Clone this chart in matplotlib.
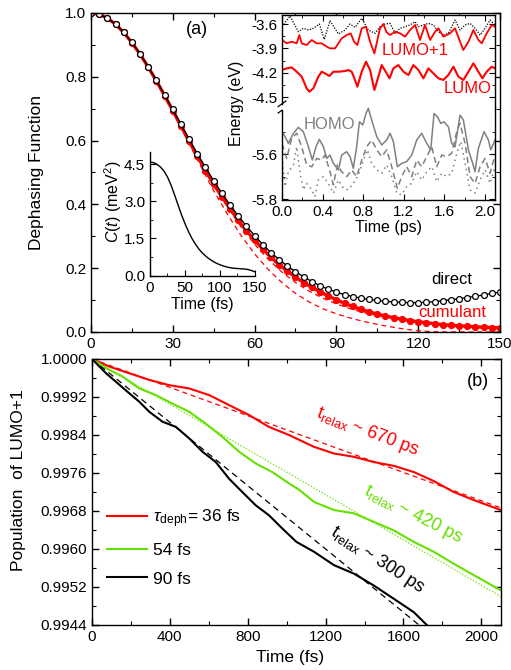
import numpy as np
import matplotlib
matplotlib.use("Agg")
import matplotlib.pyplot as plt
from matplotlib.ticker import MultipleLocator, FixedLocator, FormatStrFormatter

plt.rcParams["font.family"] = "Liberation Sans"
plt.rcParams["mathtext.fontset"] = "custom"
plt.rcParams["mathtext.rm"] = "Liberation Sans"
plt.rcParams["mathtext.it"] = "Liberation Sans:italic"
plt.rcParams["axes.unicode_minus"] = False
plt.rcParams["xtick.direction"] = "in"
plt.rcParams["ytick.direction"] = "in"
plt.rcParams["axes.linewidth"] = 1.0
plt.rcParams["lines.solid_joinstyle"] = "round"

RED = "#ff0000"
GREEN = "#66e000"
GRAY = "#808080"

# -- panel (a): dephasing function
t_deph = np.arange(0, 151, 3)
direct = [1.000, 0.996, 0.984, 0.965, 0.939, 0.908, 0.872, 0.832, 0.789, 0.744,
          0.698, 0.651, 0.605, 0.559, 0.516, 0.474, 0.435, 0.398, 0.364, 0.332,
          0.302, 0.274, 0.249, 0.227, 0.207, 0.189, 0.173, 0.158, 0.145, 0.134,
          0.125, 0.117, 0.111, 0.106, 0.102, 0.099, 0.096, 0.094, 0.093, 0.092,
          0.092, 0.093, 0.095, 0.098, 0.101, 0.104, 0.108, 0.112, 0.116, 0.121,
          0.125]
cumulant = [1.000, 0.996, 0.984, 0.965, 0.939, 0.907, 0.871, 0.830, 0.787, 0.741,
            0.694, 0.646, 0.598, 0.551, 0.506, 0.463, 0.424, 0.386, 0.350, 0.317,
            0.288, 0.260, 0.234, 0.211, 0.191, 0.172, 0.155, 0.140, 0.126, 0.113,
            0.101, 0.090, 0.080, 0.071, 0.063, 0.056, 0.050, 0.045, 0.040, 0.036,
            0.032, 0.029, 0.026, 0.023, 0.021, 0.019, 0.018, 0.016, 0.015, 0.014,
            0.013]
t_fit = np.arange(0, 151, 5)
fit_outer = [1.000, 0.990, 0.960, 0.906, 0.843, 0.768, 0.690, 0.607, 0.524, 0.443,
             0.370, 0.303, 0.245, 0.196, 0.155, 0.121, 0.094, 0.073, 0.057, 0.044,
             0.033, 0.024, 0.016, 0.009, 0.004, 0.001, 0.000, 0.000, 0.000, 0.000,
             0.000]
fit_inner = [1.000, 0.989, 0.958, 0.907, 0.843, 0.771, 0.694, 0.616, 0.538, 0.463,
             0.393, 0.330, 0.275, 0.228, 0.188, 0.155, 0.128, 0.106, 0.088, 0.073,
             0.061, 0.051, 0.043, 0.037, 0.031, 0.026, 0.022, 0.019, 0.016, 0.014,
             0.012]

# -- inset: autocorrelation C(t)
t_corr = np.arange(0, 151, 5)
corr = [4.58, 4.56, 4.49, 4.38, 4.22, 3.98, 3.66, 3.27, 2.86, 2.46,
        2.10, 1.78, 1.50, 1.27, 1.07, 0.91, 0.78, 0.67, 0.58, 0.50,
        0.44, 0.39, 0.35, 0.32, 0.30, 0.29, 0.28, 0.27, 0.25, 0.21, 0.15]

# -- inset: orbital energies (ps, eV)
t_top = [0.0, 0.079, 0.161, 0.210, 0.260, 0.309, 0.368, 0.417, 0.473, 0.556,
         0.621, 0.671, 0.720, 0.786, 0.851, 0.917, 0.966, 1.016, 1.065, 1.115,
         1.164, 1.213, 1.262, 1.312, 1.345, 1.394, 1.443, 1.492, 1.542, 1.591,
         1.640, 1.706, 1.755, 1.805, 1.854, 1.903, 1.953, 2.002, 2.051, 2.100]
e_top = [-3.633, -3.501, -3.695, -3.653, -3.674, -3.653, -3.600, -3.789, -3.559, -3.723,
         -3.674, -3.600, -3.641, -3.530, -3.674, -3.715, -3.633, -3.600, -3.592, -3.715,
         -3.653, -3.633, -3.612, -3.571, -3.633, -3.612, -3.592, -3.612, -3.695, -3.736,
         -3.715, -3.551, -3.674, -3.612, -3.592, -3.653, -3.736, -3.653, -3.551, -3.612]

t_lumo1 = [0.0, 0.046, 0.095, 0.145, 0.171, 0.194, 0.243, 0.293, 0.342, 0.391,
           0.441, 0.473, 0.523, 0.556, 0.588, 0.638, 0.677, 0.710, 0.743, 0.786,
           0.828, 0.868, 0.911, 0.966, 0.999, 1.030, 1.065, 1.115, 1.164, 1.213,
           1.262, 1.312, 1.361, 1.410, 1.460, 1.509, 1.542, 1.591, 1.657, 1.706,
           1.755, 1.788, 1.838, 1.887, 1.936, 1.969, 2.018, 2.068, 2.100]
e_lumo1 = [-3.797, -3.838, -3.818, -3.838, -3.736, -3.838, -3.859, -3.797, -3.838, -3.838,
           -3.879, -3.900, -3.900, -3.838, -3.777, -3.736, -3.715, -3.818, -3.859, -3.653,
           -3.633, -3.818, -3.962, -3.653, -3.600, -3.700, -3.736, -3.695, -3.715, -3.756,
           -3.674, -3.612, -3.797, -3.612, -3.797, -3.695, -3.653, -3.756, -3.715, -3.653,
           -3.818, -3.921, -3.818, -3.674, -3.797, -3.838, -3.715, -3.612, -3.633]

t_lumo = [0.0, 0.046, 0.095, 0.145, 0.194, 0.243, 0.270, 0.309, 0.358, 0.391,
          0.424, 0.467, 0.506, 0.556, 0.621, 0.654, 0.687, 0.720, 0.743, 0.786,
          0.828, 0.868, 0.911, 0.950, 0.983, 1.032, 1.060, 1.098, 1.147, 1.197,
          1.246, 1.295, 1.345, 1.394, 1.443, 1.492, 1.542, 1.591, 1.640, 1.690,
          1.739, 1.788, 1.838, 1.887, 1.936, 1.976, 2.018, 2.068, 2.100]
e_lumo = [-4.167, -4.147, -4.134, -4.188, -4.249, -4.393, -4.434, -4.393, -4.249, -4.188,
          -4.208, -4.241, -4.188, -4.188, -4.180, -4.167, -4.188, -4.290, -4.373, -4.188,
          -4.064, -4.167, -4.414, -4.249, -4.106, -4.208, -4.270, -4.147, -4.106, -4.188,
          -4.229, -4.106, -4.167, -4.270, -4.147, -4.208, -4.270, -4.290, -4.229, -4.126,
          -4.249, -4.290, -4.188, -4.085, -4.188, -4.270, -4.188, -4.126, -4.147]

t_homo = [0.0, 0.030, 0.062, 0.112, 0.161, 0.210, 0.260, 0.299, 0.335, 0.368,
          0.408, 0.441, 0.473, 0.506, 0.556, 0.588, 0.638, 0.671, 0.703, 0.736,
          0.763, 0.796, 0.828, 0.851, 0.884, 0.934, 0.983, 1.032, 1.065, 1.098,
          1.137, 1.180, 1.229, 1.279, 1.328, 1.377, 1.427, 1.466, 1.499, 1.532,
          1.565, 1.598, 1.640, 1.673, 1.706, 1.755, 1.788, 1.838, 1.880, 1.903,
          1.936, 1.992, 2.035, 2.058, 2.100]
e_homo = [-5.500, -5.522, -5.552, -5.507, -5.481, -5.500, -5.567, -5.626, -5.567, -5.534,
          -5.567, -5.619, -5.604, -5.641, -5.670, -5.604, -5.589, -5.611, -5.663, -5.567,
          -5.456, -5.470, -5.419, -5.396, -5.448, -5.522, -5.559, -5.537, -5.507, -5.544,
          -5.656, -5.641, -5.633, -5.604, -5.537, -5.507, -5.552, -5.581, -5.419, -5.433,
          -5.463, -5.456, -5.478, -5.552, -5.567, -5.426, -5.448, -5.581, -5.641, -5.678,
          -5.574, -5.500, -5.537, -5.581, -5.537]

t_homo1 = [0.0, 0.046, 0.095, 0.145, 0.194, 0.243, 0.293, 0.342, 0.391, 0.424,
           0.473, 0.506, 0.546, 0.588, 0.638, 0.687, 0.736, 0.786, 0.835, 0.884,
           0.934, 0.983, 1.032, 1.082, 1.137, 1.180, 1.229, 1.279, 1.328, 1.377,
           1.427, 1.476, 1.525, 1.575, 1.624, 1.673, 1.723, 1.755, 1.805, 1.854,
           1.903, 1.953, 2.002, 2.051, 2.100]
e_homo1 = [-5.552, -5.619, -5.530, -5.507, -5.567, -5.648, -5.656, -5.619, -5.626, -5.604,
           -5.678, -5.737, -5.648, -5.678, -5.700, -5.670, -5.700, -5.626, -5.567, -5.537,
           -5.581, -5.611, -5.581, -5.656, -5.752, -5.700, -5.656, -5.700, -5.626, -5.656,
           -5.611, -5.567, -5.656, -5.604, -5.611, -5.596, -5.500, -5.463, -5.552, -5.700,
           -5.730, -5.656, -5.619, -5.685, -5.604]

t_homo2 = [0.0, 0.030, 0.062, 0.112, 0.145, 0.178, 0.210, 0.243, 0.293, 0.325,
           0.358, 0.408, 0.457, 0.506, 0.556, 0.605, 0.654, 0.703, 0.753, 0.802,
           0.842, 0.884, 0.934, 0.983, 1.032, 1.082, 1.131, 1.180, 1.229, 1.279,
           1.328, 1.377, 1.427, 1.476, 1.525, 1.575, 1.624, 1.673, 1.723, 1.762,
           1.805, 1.854, 1.903, 1.953, 2.002, 2.051, 2.100]
e_homo2 = [-5.611, -5.744, -5.678, -5.648, -5.567, -5.685, -5.759, -5.730, -5.759, -5.789,
           -5.715, -5.700, -5.730, -5.774, -5.715, -5.752, -5.759, -5.730, -5.693, -5.626,
           -5.581, -5.641, -5.670, -5.685, -5.648, -5.700, -5.774, -5.781, -5.744, -5.730,
           -5.678, -5.715, -5.678, -5.656, -5.722, -5.685, -5.700, -5.685, -5.596, -5.544,
           -5.641, -5.759, -5.774, -5.715, -5.670, -5.730, -5.656]

# -- panel (b): population of LUMO+1 (fs)
t_red = [0, 89, 191, 294, 396, 499, 602, 704, 807, 909, 1012, 1063, 1141, 1243,
         1346, 1448, 1551, 1653, 1756, 1858, 1961, 2100]
p_red = [1.0, 0.99984, 0.99970, 0.99956, 0.99945, 0.99938, 0.99924, 0.99903,
         0.99882, 0.99857, 0.99840, 0.99830, 0.99815, 0.99801, 0.99794, 0.99783,
         0.99775, 0.99762, 0.99743, 0.99720, 0.99703, 0.99682]
t_green = [0, 89, 157, 243, 328, 414, 499, 584, 670, 755, 841, 926, 1012, 1063,
           1141, 1243, 1346, 1448, 1551, 1653, 1756, 1858, 1961, 2100]
p_green = [1.0, 0.99977, 0.99963, 0.99938, 0.99924, 0.99906, 0.99889, 0.99864,
           0.99836, 0.99805, 0.99780, 0.99762, 0.99738, 0.99725, 0.99699, 0.99682,
           0.99675, 0.99657, 0.99639, 0.99615, 0.99594, 0.99569, 0.99545, 0.99513]
t_black = [0, 72, 123, 191, 243, 294, 362, 431, 499, 567, 636, 704, 772, 841,
           909, 978, 1050, 1141, 1243, 1346, 1448, 1551, 1653, 1720]
p_black = [1.0, 0.99970, 0.99952, 0.99928, 0.99910, 0.99889, 0.99868, 0.99857,
           0.99833, 0.99805, 0.99783, 0.99748, 0.99720, 0.99692, 0.99671, 0.99643,
           0.99615, 0.99594, 0.99566, 0.99548, 0.99523, 0.99495, 0.99467, 0.99440]
t_lin = [0, 2100]
fit_red = [1.0, 0.996866]
fit_green = [1.0, 0.995000]
fit_black = [1.0, 0.993000]
tau_labels = [r"$\tau_{\rm deph}$= 36 fs", "54 fs", "90 fs"]

plt.close("all")
fig = plt.figure(figsize=(5.11, 6.7), dpi=100)


def box_ticks(ax):
    ax.tick_params(which="both", top=True, right=True, labelsize=11)
    ax.tick_params(which="major", length=5, width=1.0)
    ax.tick_params(which="minor", length=3, width=0.8)


# -- (a)
ax = fig.add_axes([0.178, 0.5045, 0.8005, 0.4761])
ax.plot(t_fit, fit_outer, color=RED, lw=0.9, dashes=(4, 3))
ax.plot(t_fit, fit_inner, color=RED, lw=0.9, dashes=(4, 3))
ax.plot(t_deph, cumulant, "-o", color=RED, lw=2.4, ms=4.2, mfc=RED, mec=RED)
ax.plot(t_deph, direct, "-o", color="k", lw=1.0, ms=4.2, mfc="white",
        mec="k", mew=0.9)
ax.set_xlim(0, 150)
ax.set_ylim(0, 1.0)
ax.xaxis.set_major_locator(MultipleLocator(30))
ax.xaxis.set_minor_locator(MultipleLocator(15))
ax.yaxis.set_major_locator(MultipleLocator(0.2))
ax.yaxis.set_minor_locator(MultipleLocator(0.1))
ax.yaxis.set_major_formatter(FormatStrFormatter("%.1f"))
box_ticks(ax)
ax.set_ylabel("Dephasing Function", fontsize=12.5)
ax.yaxis.set_label_coords(-0.115, 0.5)
ax.text(0.259, 0.947, "(a)", transform=ax.transAxes, fontsize=13,
        ha="center", va="center")
ax.text(132.4, 0.166, "direct", fontsize=12, ha="center", va="center")
ax.text(132.4, 0.06, "cumulant", fontsize=12, ha="center", va="center",
        color=RED)

# -- inset C(t)
axc = fig.add_axes([0.2935, 0.5885, 0.2055, 0.1851])
axc.patch.set_alpha(0)
axc.plot(t_corr, corr, color="k", lw=1.0)
axc.set_xlim(0, 150)
axc.set_ylim(0, 5.0)
axc.spines["top"].set_visible(False)
axc.spines["right"].set_visible(False)
axc.xaxis.set_major_locator(MultipleLocator(50))
axc.xaxis.set_minor_locator(MultipleLocator(25))
axc.yaxis.set_major_locator(MultipleLocator(1.5))
axc.yaxis.set_minor_locator(MultipleLocator(0.75))
axc.yaxis.set_major_formatter(FormatStrFormatter("%.1f"))
axc.tick_params(which="both", labelsize=11)
axc.tick_params(which="major", length=4)
axc.tick_params(which="minor", length=2.5)
axc.set_xlabel("Time (fs)", fontsize=11.5, labelpad=2)
fig.text(113 / 511, 1 - 202 / 670, r"$C(t)$ (meV$^{2}$)", rotation=90,
         fontsize=11.5, ha="center", va="center")

# -- inset energies, broken axis
axu = fig.add_axes([0.5519, 0.8403, 0.4168, 0.1373])
axl = fig.add_axes([0.5519, 0.7015, 0.4168, 0.1388])
axu.plot(t_top, e_top, color="k", lw=0.9, ls=(0, (1, 1.2)))
axu.plot(t_lumo1, e_lumo1, color=RED, lw=1.3)
axu.plot(t_lumo, e_lumo, color=RED, lw=1.5)
axl.plot(t_homo, e_homo, color=GRAY, lw=1.1)
axl.plot(t_homo1, e_homo1, color=GRAY, lw=1.1, dashes=(4, 2.5))
axl.plot(t_homo2, e_homo2, color=GRAY, lw=1.1, ls=(0, (1, 2.5)))
for a in (axu, axl):
    a.set_xlim(0, 2.1)
    a.xaxis.set_major_locator(MultipleLocator(0.4))
    a.xaxis.set_minor_locator(MultipleLocator(0.2))
    a.tick_params(which="both", right=True, labelsize=11)
    a.tick_params(which="major", length=4)
    a.tick_params(which="minor", length=2.5)
axu.set_ylim(-4.623, -3.489)
axu.yaxis.set_major_locator(FixedLocator([-4.5, -4.2, -3.9, -3.6]))
axu.yaxis.set_minor_locator(FixedLocator([-4.35, -4.05, -3.75]))
axu.yaxis.set_major_formatter(FormatStrFormatter("%.1f"))
axu.tick_params(which="both", top=True, bottom=False, labelbottom=False)
axu.spines["bottom"].set_visible(False)
axu.spines["left"].set_bounds(-4.585, -3.489)
axl.set_ylim(-5.804, -5.39)
axl.yaxis.set_major_locator(FixedLocator([-5.8, -5.6]))
axl.yaxis.set_minor_locator(FixedLocator([-5.7, -5.5]))
axl.yaxis.set_major_formatter(FormatStrFormatter("%.1f"))
axl.xaxis.set_major_formatter(FormatStrFormatter("%.1f"))
axl.tick_params(which="both", top=False)
axl.spines["top"].set_visible(False)
axl.spines["left"].set_bounds(-5.804, -5.405)
axl.set_xlabel("Time (ps)", fontsize=11.5, labelpad=1)
for dy in (0.035, -0.035):
    axu.plot([-0.018, 0.018], [dy - 0.03, dy + 0.03], color="k", lw=0.9,
             transform=axu.transAxes, clip_on=False)
fig.text(237 / 511, 1 - 103 / 670, "Energy (eV)", rotation=90,
         fontsize=11.5, ha="center", va="center")
axu.text(1.31, -3.93, "LUMO+1", color=RED, fontsize=12, ha="center",
         va="center")
axu.text(1.834, -4.40, "LUMO", color=RED, fontsize=12, ha="center",
         va="center")
axl.text(0.463, -5.466, "HOMO", color=GRAY, fontsize=12, ha="center",
         va="center")

# -- (b)
bx = fig.add_axes([0.180, 0.0672, 0.800, 0.3970])
bx.plot(t_lin, fit_red, color=RED, lw=0.9, dashes=(4, 3))
bx.plot(t_lin, fit_green, color=GREEN, lw=0.9, ls=(0, (1, 1.5)))
bx.plot(t_lin, fit_black, color="k", lw=0.9, dashes=(5, 3.5))
l1, = bx.plot(t_red, p_red, color=RED, lw=1.5)
l2, = bx.plot(t_green, p_green, color=GREEN, lw=1.5)
l3, = bx.plot(t_black, p_black, color="k", lw=1.5)
bx.set_xlim(0, 2100)
bx.set_ylim(0.9944, 1.0)
bx.xaxis.set_major_locator(MultipleLocator(400))
bx.xaxis.set_minor_locator(MultipleLocator(200))
bx.yaxis.set_major_locator(MultipleLocator(0.0008))
bx.yaxis.set_minor_locator(MultipleLocator(0.0004))
bx.yaxis.set_major_formatter(FormatStrFormatter("%.4f"))
box_ticks(bx)
bx.set_ylabel("Population  of LUMO+1", fontsize=12.5)
bx.yaxis.set_label_coords(-0.162, 0.545)
bx.set_xlabel("Time (fs)", fontsize=12.5)
bx.xaxis.set_label_coords(0.484, -0.094)
bx.text(0.944, 0.917, "(b)", transform=bx.transAxes, fontsize=13,
        ha="center", va="center")
bx.text(1414, 0.99846, r"t$_{\rm relax}$ ~ 670 ps", color=RED, fontsize=13,
        rotation=-21, ha="center", va="center", rotation_mode="anchor")
bx.text(1650, 0.99672, r"t$_{\rm relax}$ ~ 420 ps", color=GREEN, fontsize=13,
        rotation=-27, ha="center", va="center", rotation_mode="anchor")
bx.text(1466, 0.99577, r"t$_{\rm relax}$ ~ 300 ps", color="k", fontsize=13,
        rotation=-33, ha="center", va="center", rotation_mode="anchor")
bx.legend([l1, l2, l3], tau_labels, loc="center left",
          bbox_to_anchor=(0.037, 0.293), frameon=False, fontsize=12.5,
          handlelength=2.3, handletextpad=0.35, labelspacing=0.75,
          borderpad=0, borderaxespad=0)

fig.savefig("out.png", dpi=100)
